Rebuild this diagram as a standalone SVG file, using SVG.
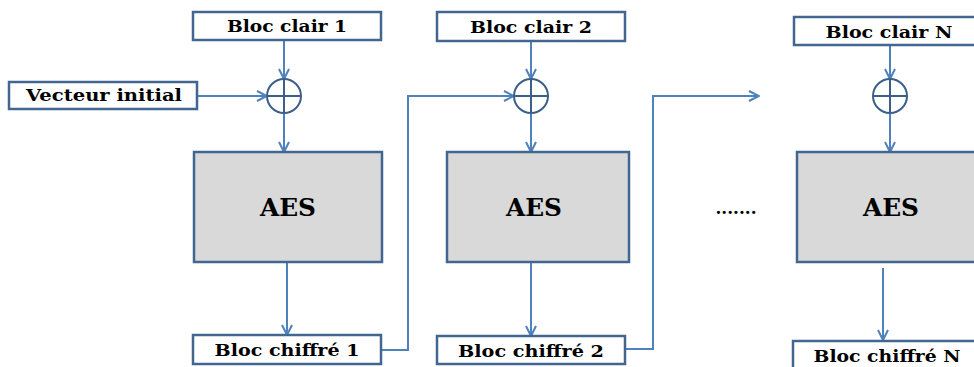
<svg xmlns="http://www.w3.org/2000/svg" width="974" height="367" viewBox="0 0 974 367">
<defs>
<marker id="arr" viewBox="0 0 12 12" refX="11" refY="6" markerWidth="12" markerHeight="12" markerUnits="userSpaceOnUse" orient="auto">
<path d="M1,1 L11,6 L1,11" fill="none" stroke="#4f81bd" stroke-width="2"/>
</marker>
</defs>
<style>
.box{fill:#fff;stroke:#41668f;stroke-width:2.5}
.aes{fill:#d9d9d9;stroke:#41668f;stroke-width:2.5}
.lbl{font-family:"DejaVu Serif",serif;font-weight:bold;font-size:16px;fill:#000;text-anchor:middle}
.big{font-family:"DejaVu Serif",serif;font-weight:bold;font-size:24px;fill:#000;text-anchor:middle}
.xor{fill:none;stroke:#3c5f8a;stroke-width:2}
.c{fill:none;stroke:#4f81bd;stroke-width:2;marker-end:url(#arr)}
</style>
<rect width="974" height="367" fill="#fff"/>
<g id="connectors">
<path class="c" d="M284,40 V79"/>
<path class="c" d="M197,96 H267"/>
<path class="c" d="M284,113 V152"/>
<path class="c" d="M287,262 V335"/>
<path class="c" d="M381,350 H408 V96 H514"/>
<path class="c" d="M531,41 V79"/>
<path class="c" d="M531,113 V152"/>
<path class="c" d="M531,262 V336"/>
<path class="c" d="M625,349 H653 V96 H759"/>
<path class="c" d="M890,45 V79"/>
<path class="c" d="M890,113 V152"/>
<path class="c" d="M883,268 V340"/>
</g>
<g id="bloc-clair-1"><rect class="box" x="193" y="12" width="188" height="28"/><text class="lbl" x="287" y="32" textLength="120" lengthAdjust="spacingAndGlyphs">Bloc clair 1</text></g>
<g id="vecteur-initial"><rect class="box" x="9" y="82" width="188" height="27"/><text class="lbl" x="104" y="101" textLength="156" lengthAdjust="spacingAndGlyphs">Vecteur initial</text></g>
<g id="xor-1"><circle class="xor" cx="284" cy="96" r="17"/><path class="xor" d="M267,96 H301 M284,79 V113"/></g>
<g id="aes-1"><rect class="aes" x="194" y="152" width="188" height="110"/><text class="big" x="288" y="216" textLength="56" lengthAdjust="spacingAndGlyphs">AES</text></g>
<g id="bloc-chiffre-1"><rect class="box" x="193" y="335" width="188" height="29"/><text class="lbl" x="287" y="356" textLength="145" lengthAdjust="spacingAndGlyphs">Bloc chiffré 1</text></g>
<g id="bloc-clair-2"><rect class="box" x="437" y="12" width="188" height="29"/><text class="lbl" x="531" y="33" textLength="122" lengthAdjust="spacingAndGlyphs">Bloc clair 2</text></g>
<g id="xor-2"><circle class="xor" cx="531" cy="96" r="17"/><path class="xor" d="M514,96 H548 M531,79 V113"/></g>
<g id="aes-2"><rect class="aes" x="447" y="152" width="182" height="110"/><text class="big" x="534" y="216" textLength="56" lengthAdjust="spacingAndGlyphs">AES</text></g>
<g id="bloc-chiffre-2"><rect class="box" x="437" y="336" width="188" height="28"/><text class="lbl" x="531" y="357" textLength="146" lengthAdjust="spacingAndGlyphs">Bloc chiffré 2</text></g>
<g id="dots"><text class="lbl" x="736" y="214" font-weight="normal" textLength="41" lengthAdjust="spacingAndGlyphs">.......</text></g>
<g id="bloc-clair-n"><rect class="box" x="794" y="17" width="182" height="28"/><text class="lbl" x="889" y="38" textLength="127" lengthAdjust="spacingAndGlyphs">Bloc clair N</text></g>
<g id="xor-n"><circle class="xor" cx="890" cy="96" r="17"/><path class="xor" d="M873,96 H907 M890,79 V113"/></g>
<g id="aes-n"><rect class="aes" x="797" y="152" width="182" height="110"/><text class="big" x="891" y="216" textLength="56" lengthAdjust="spacingAndGlyphs">AES</text></g>
<g id="bloc-chiffre-n"><rect class="box" x="793" y="341" width="185" height="30"/><text class="lbl" x="887" y="362" textLength="147" lengthAdjust="spacingAndGlyphs">Bloc chiffré N</text></g>
</svg>
